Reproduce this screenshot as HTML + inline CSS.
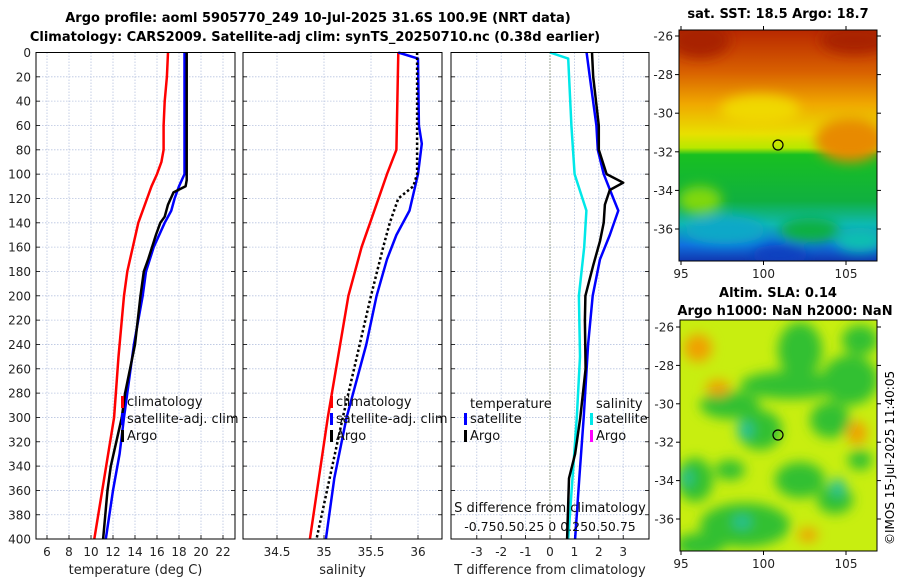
<!DOCTYPE html>
<html><head><meta charset="utf-8"><style>
html,body{margin:0;padding:0;background:#fff}
svg{display:block;font-family:"DejaVu Sans","Liberation Sans",sans-serif}
</style></head><body>
<svg id="fig" width="900" height="580" viewBox="0 0 900 580">
<defs>
<filter id="blur6"><feGaussianBlur stdDeviation="6"/></filter>
<filter id="blur3"><feGaussianBlur stdDeviation="3"/></filter>
<linearGradient id="sstgrad" x1="0" y1="0" x2="0" y2="1">
<stop offset="0" stop-color="#b82800"/><stop offset="0.18" stop-color="#d86000"/>
<stop offset="0.32" stop-color="#f0a800"/><stop offset="0.45" stop-color="#e8e000"/>
<stop offset="0.51" stop-color="#b8e800"/><stop offset="0.54" stop-color="#18c020"/>
<stop offset="0.74" stop-color="#10b040"/><stop offset="0.84" stop-color="#10b8b0"/>
<stop offset="0.93" stop-color="#1070e0"/><stop offset="1" stop-color="#1038b0"/>
</linearGradient>
<clipPath id="clip1"><rect x="679" y="30" width="198" height="231"/></clipPath>
<clipPath id="clip2"><rect x="680" y="320" width="197" height="231"/></clipPath>
</defs>
<text x="318" y="22" text-anchor="middle" font-size="13" font-weight="bold">Argo profile: aoml 5905770_249 10-Jul-2025 31.6S 100.9E (NRT data)</text>
<text x="315" y="41" text-anchor="middle" font-size="13" font-weight="bold">Climatology: CARS2009. Satellite-adj clim: synTS_20250710.nc (0.38d earlier)</text>
<g id="panels"></g>
<g id="maps"></g>
<text transform="translate(894,545) rotate(-90)" font-size="12">©IMOS 15-Jul-2025 11:40:05</text>
</svg>
<script>
// depth grid
const depthTicks = [0,20,40,60,80,100,120,140,160,180,200,220,240,260,280,300,320,340,360,380,400];
// temperature panel
const tempTicks = [6,8,10,12,14,16,18,20,22];
const tClimDepth = [0,20,40,60,80,90,100,110,120,140,160,180,200,250,300,350,400];
const tClim = [17.0,16.9,16.7,16.6,16.6,16.4,16.0,15.5,15.1,14.3,13.8,13.3,13.0,12.5,12.1,11.2,10.3];
const tSatDepth = [0,100,110,120,130,140,160,180,200,240,280,300,330,360,400];
const tSat = [18.5,18.5,18.0,17.6,17.3,16.7,15.7,15.0,14.7,13.9,13.3,13.0,12.6,12.0,11.35];
const tArgoDepth = [0,105,110,115,125,135,140,150,170,180,200,240,280,300,320,340,360,380,400];
const tArgo = [18.7,18.7,18.6,17.5,17.0,16.7,16.3,15.9,15.2,14.8,14.5,14.0,13.1,12.8,12.3,11.8,11.5,11.3,11.1];
// salinity panel
const salTicks = [34.5,35,35.5,36];
const sClimDepth = [0,80,100,140,160,200,300,400];
const sClim = [35.79,35.77,35.67,35.49,35.40,35.26,35.04,34.85];
const sSatDepth = [0,5,60,75,100,130,150,170,200,240,300,350,400];
const sSat = [35.79,36.0,36.01,36.04,36.0,35.91,35.77,35.67,35.56,35.45,35.24,35.11,35.02];
const sArgoDepth = [0,100,110,120,140,160,200,300,400];
const sArgo = [35.99,35.99,35.95,35.79,35.70,35.63,35.50,35.2,34.92];
// difference panel
const dTicks = [-3,-2,-1,0,1,2,3];
const dSatDepth = [0,20,60,80,100,120,130,150,170,200,240,300,350,400];
const dSat = [1.5,1.63,1.9,1.96,2.2,2.6,2.8,2.45,2.05,1.75,1.56,1.38,1.2,1.03];
const dArgoDepth = [0,20,60,80,100,107,113,125,140,155,175,200,220,260,300,330,350,400];
const dArgo = [1.72,1.77,2.0,2.0,2.32,3.0,2.45,2.25,2.2,2.05,1.77,1.45,1.43,1.46,1.24,1.03,0.78,0.7];
const sDiffDepth = [0,5,60,100,130,160,200,250,300,400];
const sDiff = [0,0.17,0.2,0.23,0.34,0.32,0.27,0.28,0.25,0.17];
// map ticks
const lonTicks = [95,100,105];
const latTicks = [-26,-28,-30,-32,-34,-36];

const NS='http://www.w3.org/2000/svg';
function mk(tag, attrs, parent, txt){const e=document.createElementNS(NS,tag);for(const k in attrs)e.setAttribute(k,attrs[k]);if(txt!==undefined)e.textContent=txt;parent.appendChild(e);return e;}
const yD = d => 52.5 + d*1.2165;
const panels=document.getElementById('panels');

function panel(name,x0,x1,xs,ticks,labels,xlabel){
  const g=mk('g',{},panels);
  
  
  ticks.forEach(t=>{mk('line',{x1:xs(t),x2:xs(t),y1:52.5,y2:539,stroke:'#b8c4e0','stroke-width':0.8,'stroke-dasharray':'1.5,1.5'},g);
    mk('line',{x1:xs(t),x2:xs(t),y1:539,y2:535,stroke:'#000','stroke-width':0.8},g);});
  depthTicks.forEach(d=>{mk('line',{x1:x0,x2:x1,y1:yD(d),y2:yD(d),stroke:'#b8c4e0','stroke-width':0.8,'stroke-dasharray':'1.5,1.5'},g);
    mk('line',{x1:x0,x2:x0+4,y1:yD(d),y2:yD(d),stroke:'#000','stroke-width':0.8},g);
    mk('line',{x1:x1-4,x2:x1,y1:yD(d),y2:yD(d),stroke:'#000','stroke-width':0.8},g);});
  ticks.forEach((t,i)=>{const tl=mk('text',{x:xs(t),y:556,'text-anchor':'middle','font-size':12,fill:'#222'},g,labels[i]);
    
    });
  const xl=mk('text',{x:(x0+x1)/2,y:574,'text-anchor':'middle','font-size':13,fill:'#222'},g,xlabel);
  
  
  return g;
}
function line(g,xs,depths,vals,color,w,dash,name){
  const pts=depths.map((d,i)=>xs(vals[i]).toFixed(1)+','+yD(d).toFixed(1)).join(' ');
  const p=mk('polyline',{points:pts,fill:'none',stroke:color,'stroke-width':w,'stroke-linejoin':'round'},g);
  if(dash)p.setAttribute('stroke-dasharray',dash);
  
  
}
function frame(g,x0,x1){mk('rect',{x:x0,y:52.5,width:x1-x0,height:486.5,fill:'none',stroke:'#000','stroke-width':1},g);}
function legend(g,x,y,items){
  items.forEach((it,i)=>{
    if(it[0]){mk('rect',{x:x,y:y+i*17-10,width:3,height:12,fill:it[0]},g);}
    const t=mk('text',{x:x+6,y:y+i*17,'font-size':13,fill:'#111'},g,it[1]);
    
    
  });
}

// Temperature
const xT = t => 47 + (t-6)*11;
const g1=panel('temperature-panel',36,235,xT,tempTicks,tempTicks.map(String),'temperature (deg C)');
depthTicks.forEach(d=>{const t=mk('text',{x:31,y:yD(d)+4.5,'text-anchor':'end','font-size':12,fill:'#222'},g1,String(d));
  
  });
line(g1,xT,tClimDepth,tClim,'#f00',2.5,null,'temp-climatology-line');
line(g1,xT,tSatDepth,tSat,'#00f',2.5,null,'temp-satellite-line');
line(g1,xT,tArgoDepth,tArgo,'#000',2.5,null,'temp-argo-line');
legend(g1,121,406,[['#f00','climatology'],['#00f','satellite-adj. clim'],['#000','Argo']]);
frame(g1,36,235);

// Salinity
const xS = s => 277 + (s-34.5)*94;
const g2=panel('salinity-panel',243,442,xS,salTicks,['34.5','35','35.5','36'],'salinity');
line(g2,xS,sClimDepth,sClim,'#f00',2.5,null,'sal-climatology-line');
line(g2,xS,sSatDepth,sSat,'#00f',2.5,null,'sal-satellite-line');
line(g2,xS,sArgoDepth,sArgo,'#000',2.5,'2.5,2.5','sal-argo-line');
legend(g2,330,406,[['#f00','climatology'],['#00f','satellite-adj. clim'],['#000','Argo']]);
frame(g2,243,442);

// Difference
const xDd = v => 550 + v*24.4;
const xSd = v => 550 + v*107;
const g3=panel('difference-panel',451,649,xDd,dTicks,dTicks.map(String),'T difference from climatology');
mk('line',{x1:550,x2:550,y1:52.5,y2:539,stroke:'#556030','stroke-width':1,'stroke-dasharray':'1,2'},g3);
line(g3,xSd,sDiffDepth,sDiff,'#00e8e8',2.5,null,'sal-diff-satellite-line');
line(g3,xDd,dSatDepth,dSat,'#00f',2.5,null,'temp-diff-satellite-line');
line(g3,xDd,dArgoDepth,dArgo,'#000',2.5,null,'temp-diff-argo-line');
{const t=mk('text',{x:470,y:408,'font-size':13,fill:'#111'},g3,'temperature');}
{const t=mk('text',{x:596,y:408,'font-size':13,fill:'#111'},g3,'salinity');}
legend(g3,464,423,[['#00f','satellite'],['#000','Argo']]);
legend(g3,590,423,[['#00e8e8','satellite'],['#f0f','Argo']]);
{const t=mk('text',{x:550,y:512,'text-anchor':'middle','font-size':13,fill:'#111'},g3,'S difference from climatology');}
{const t=mk('text',{x:550,y:531,'text-anchor':'middle','font-size':12.5,fill:'#111'},g3,'-0.750.50.25 0  0.250.50.75');}
frame(g3,451,649);

// Maps
const maps=document.getElementById('maps');
function mapAxes(g,x0,y0,w,h,latY,lonX,top){
  mk('rect',{x:x0,y:y0,width:w,height:h,fill:'none',stroke:'#000','stroke-width':1},g);
  latTicks.forEach(l=>{const y=latY(l);
    mk('line',{x1:x0-4,x2:x0,y1:y,y2:y,stroke:'#000'},g);mk('line',{x1:x0+w,x2:x0+w+4,y1:y,y2:y,stroke:'#000'},g);
    const t=mk('text',{x:x0-6,y:y+4.5,'text-anchor':'end','font-size':12,fill:'#222'},g,String(l));
    
    });
  lonTicks.forEach(l=>{const x=lonX(l);
    mk('line',{x1:x,x2:x,y1:y0+h,y2:y0+h+4,stroke:'#000'},g);
    if(top)mk('line',{x1:x,x2:x,y1:y0-4,y2:y0,stroke:'#000'},g);
    const t=mk('text',{x:x,y:y0+h+17,'text-anchor':'middle','font-size':12,fill:'#222'},g,String(l));
    
    });
}
const lonX = l => 681 + (l-95)*16.5;
// SST map
const m1=mk('g',{},maps);


const c1=mk('g',{'clip-path':'url(#clip1)'},m1);
mk('rect',{x:679,y:30,width:198,height:231,fill:'url(#sstgrad)'},c1);
const bl1=mk('g',{filter:'url(#blur6)'},c1);
mk('ellipse',{cx:850,cy:140,rx:35,ry:22,fill:'#e88a00'},bl1);
mk('ellipse',{cx:700,cy:40,rx:30,ry:18,fill:'#a82000'},bl1);
mk('ellipse',{cx:855,cy:40,rx:35,ry:14,fill:'#a82000'},bl1);
mk('ellipse',{cx:760,cy:110,rx:40,ry:15,fill:'#f0d800'},bl1);
mk('ellipse',{cx:700,cy:200,rx:22,ry:14,fill:'#80d810'},bl1);
mk('ellipse',{cx:725,cy:230,rx:40,ry:14,fill:'#10a8c8'},bl1);
mk('ellipse',{cx:780,cy:255,rx:28,ry:10,fill:'#1040c0'},bl1);
mk('ellipse',{cx:860,cy:240,rx:25,ry:12,fill:'#10c0b0'},bl1);
mk('ellipse',{cx:810,cy:230,rx:30,ry:12,fill:'#10b040'},bl1);
mapAxes(m1,679,30,198,231,l=>36+(-26-l)*19.3,lonX,true);
mk('circle',{cx:778,cy:145,r:5,fill:'none',stroke:'#000','stroke-width':1.2},m1);
{const t=mk('text',{x:778,y:18,'text-anchor':'middle','font-size':13,'font-weight':'bold'},m1,'sat. SST: 18.5 Argo: 18.7');}
// SLA map
const m2=mk('g',{},maps);


const c2=mk('g',{'clip-path':'url(#clip2)'},m2);
mk('rect',{x:680,y:320,width:197,height:231,fill:'#c8ee10'},c2);
const bl2=mk('g',{filter:'url(#blur6)'},c2);
[[800,350,22,28],[790,385,50,14],[850,380,28,25],[860,340,18,15],[730,405,30,14],[760,430,22,20],[830,420,20,18],[800,480,25,18],[695,480,18,22],[745,525,45,22],[700,545,25,12],[835,500,18,14],[730,470,15,10],[860,460,12,10]].forEach(e=>mk('ellipse',{cx:e[0],cy:e[1],rx:e[2],ry:e[3],fill:'#30c030'},bl2));
[[745,430,8,8],[742,522,9,6],[838,487,7,9],[687,478,5,8]].forEach(e=>mk('ellipse',{cx:e[0],cy:e[1],rx:e[2],ry:e[3],fill:'#20c0a0'},bl2));
[[698,348,14,14],[857,433,10,12],[808,535,10,7],[718,388,12,8]].forEach(e=>mk('ellipse',{cx:e[0],cy:e[1],rx:e[2],ry:e[3],fill:'#f0a000'},bl2));
mapAxes(m2,680,320,197,231,l=>327+(-26-l)*19.2,lonX,false);
mk('circle',{cx:778,cy:435,r:5,fill:'none',stroke:'#000','stroke-width':1.2},m2);
{const t=mk('text',{x:778,y:297,'text-anchor':'middle','font-size':13,'font-weight':'bold'},m2,'Altim. SLA: 0.14');}
{const t=mk('text',{x:785,y:315,'text-anchor':'middle','font-size':13,'font-weight':'bold'},m2,'Argo h1000: NaN h2000: NaN');}
</script>
</body></html>
